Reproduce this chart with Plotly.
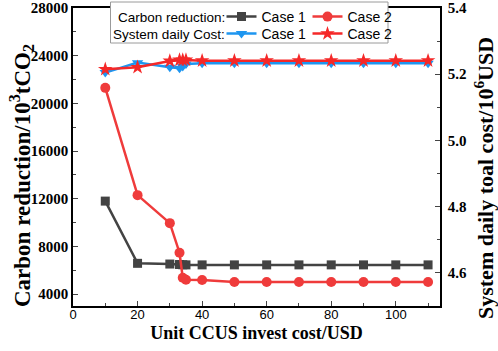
import plotly.graph_objects as go

x_cost = [10, 20, 30, 33, 34, 35, 40, 50, 60, 70, 80, 90, 100, 110]
carbon_case1 = [11800, 6580, 6520, 6480, 6460, 6450, 6450, 6450, 6450, 6450, 6450, 6450, 6450, 6450]
carbon_case2 = [21300, 12300, 9950, 7470, 5370, 5200, 5180, 5010, 5010, 5010, 5010, 5010, 5010, 5010]
cost_case1 = [5.205, 5.235, 5.221, 5.218, 5.223, 5.231, 5.233, 5.233, 5.233, 5.233, 5.233, 5.233, 5.233, 5.233]
cost_case2 = [5.215, 5.221, 5.240, 5.243, 5.243, 5.243, 5.241, 5.241, 5.241, 5.241, 5.241, 5.241, 5.241, 5.241]

left_ticks = [4000, 8000, 12000, 16000, 20000, 24000, 28000]
right_ticks = [4.6, 4.8, 5.0, 5.2, 5.4]

GRAY = "#434343"
RED = "#EF3B3B"
BLUE = "#1E96F0"
STAR = "#F52828"
SERIF = "Liberation Serif"
SANS = "Liberation Sans"

fig = go.Figure()
fig.add_trace(go.Scatter(x=x_cost, y=carbon_case1, name="Case 1", mode="lines+markers",
                         line=dict(color=GRAY, width=2.5),
                         marker=dict(symbol="square", size=9, color=GRAY),
                         legend="legend", yaxis="y"))
fig.add_trace(go.Scatter(x=x_cost, y=carbon_case2, name="Case 2", mode="lines+markers",
                         line=dict(color=RED, width=2.5),
                         marker=dict(symbol="circle", size=10, color=RED),
                         legend="legend", yaxis="y"))
fig.add_trace(go.Scatter(x=x_cost, y=cost_case1, name="Case 1", mode="lines+markers",
                         line=dict(color=BLUE, width=2.5),
                         marker=dict(symbol="triangle-down", size=10, color=BLUE),
                         legend="legend2", yaxis="y2"))
fig.add_trace(go.Scatter(x=x_cost, y=cost_case2, name="Case 2", mode="lines+markers",
                         line=dict(color=STAR, width=2.5),
                         marker=dict(symbol="star", size=11, color=STAR),
                         legend="legend2", yaxis="y2"))

pw = 498 - 73 - 58
ph = 351 - 8 - 45


def px2x(p):
    return (p - 73) / pw


def px2y(p):
    return (306 - p) / ph


legend_common = dict(orientation="h", xanchor="left", yanchor="middle",
                     bgcolor="rgba(0,0,0,0)", borderwidth=0,
                     font=dict(family=SANS, size=14, color="black"),
                     itemwidth=30, entrywidth=41, entrywidthmode="pixels", tracegroupgap=0)

fig.update_layout(
    width=498, height=351,
    margin=dict(l=73, r=58, t=8, b=45, autoexpand=False),
    paper_bgcolor="white", plot_bgcolor="white",
    showlegend=True,
    legend=dict(x=px2x(221.5), y=px2y(17), **legend_common),
    legend2=dict(x=px2x(221.5), y=px2y(34), **legend_common),
    annotations=[
        dict(text="Carbon reduction:", xref="paper", yref="paper", x=px2x(227), y=px2y(17),
             xanchor="right", yanchor="middle", showarrow=False,
             font=dict(family=SANS, size=13.5, color="black")),
        dict(text="System daily Cost:", xref="paper", yref="paper", x=px2x(227), y=px2y(34),
             xanchor="right", yanchor="middle", showarrow=False,
             font=dict(family=SANS, size=13.5, color="black")),
        dict(text="Carbon reduction/10<sup>3</sup>tCO<sub>2</sub>", xref="paper", yref="paper",
             x=px2x(21), y=px2y(176), xanchor="center", yanchor="middle", textangle=-90,
             showarrow=False, font=dict(family=SERIF, size=23, color="black", weight="bold")),
        dict(text="System daily toal cost/10<sup>6</sup>USD", xref="paper", yref="paper",
             x=px2x(484), y=px2y(178), xanchor="center", yanchor="middle", textangle=-90,
             showarrow=False, font=dict(family=SERIF, size=22, color="black", weight="bold")),
    ],
    xaxis=dict(range=[0, 113.7], dtick=20, tick0=0, ticks="inside", ticklen=5, tickwidth=1.2,
               minor=dict(dtick=10, ticks="inside", ticklen=3, tickwidth=1.2),
               showline=True, linecolor="black", linewidth=1.5, mirror=True,
               showgrid=False, zeroline=False, ticklabelstandoff=-4,
               tickfont=dict(family=SANS, size=13, color="black"),
               title=dict(text="Unit CCUS invest cost/USD", standoff=5,
                          font=dict(family=SERIF, size=18, color="black", weight="bold"))),
    yaxis=dict(range=[3000, 28000], tickvals=left_ticks, tickformat="d", ticks="inside", ticklen=5,
               tickwidth=1.2,
               minor=dict(dtick=2000, tick0=0, ticks="inside", ticklen=3, tickwidth=1.2),
               showline=True, linecolor="black", linewidth=1.5,
               showgrid=False, zeroline=False,
               tickfont=dict(family=SERIF, size=15, color="black", weight="bold")),
    yaxis2=dict(range=[4.5, 5.4], tickvals=right_ticks, tickformat=".1f", overlaying="y", side="right",
                ticks="inside", ticklen=5, tickwidth=1.2,
                minor=dict(dtick=0.1, tick0=4.5, ticks="inside", ticklen=3, tickwidth=1.2),
                showline=True, linecolor="black", linewidth=1.5,
                showgrid=False, zeroline=False, ticklabelstandoff=3,
                tickfont=dict(family=SERIF, size=15, color="black", weight="bold")),
    shapes=[dict(type="rect", xref="paper", yref="paper",
                 x0=px2x(110.5), x1=px2x(388), y0=px2y(43), y1=px2y(2),
                 line=dict(color="#9a9a9a", width=1), fillcolor="white", layer="above")],
)

fig.write_html("out.html", config={"displayModeBar": False},
               post_script="document.body.style.margin='0';")
